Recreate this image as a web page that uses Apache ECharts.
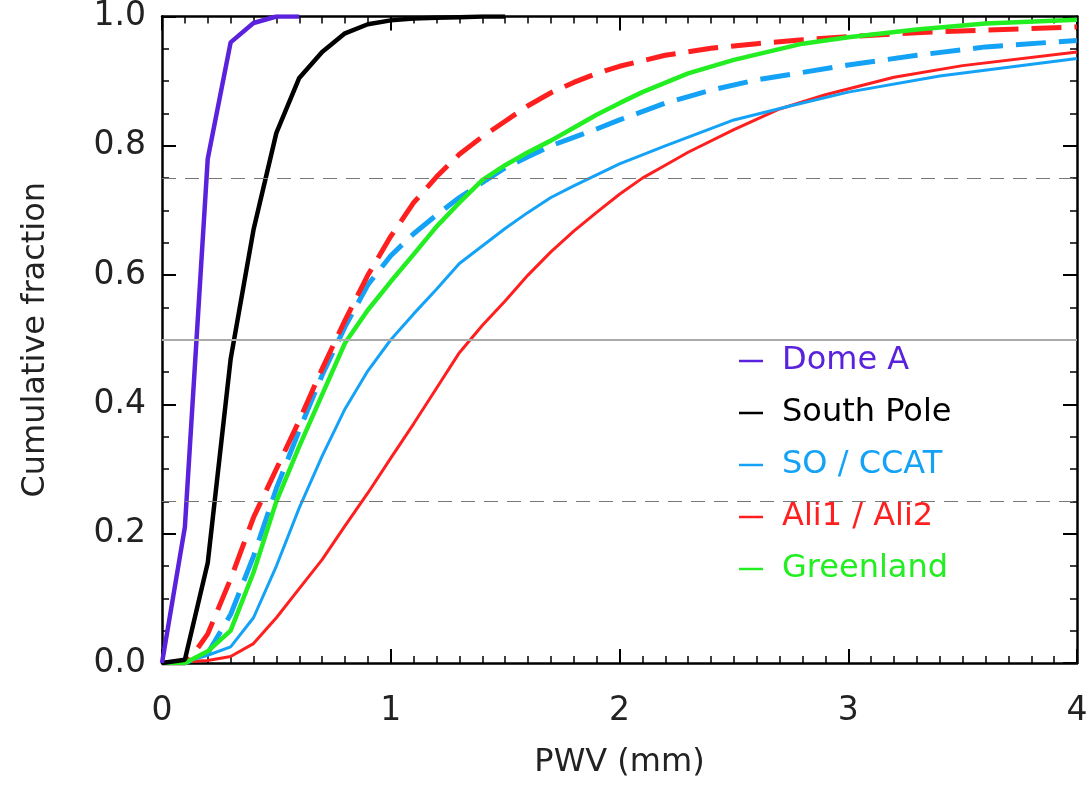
<!DOCTYPE html>
<html>
<head>
<meta charset="utf-8">
<script src="https://cdn.jsdelivr.net/npm/echarts@6/dist/echarts.min.js"></script>
<style>
  html, body { margin: 0; padding: 0; background: #fff; }
  #chart { width: 1092px; height: 785px; }
</style>
</head>
<body>
<div id="chart"></div>
<script>
// PWV values (mm) and cumulative fractions
var domeA_x = [0, 0.1, 0.2, 0.3, 0.4, 0.5, 0.6];
var domeA_y = [0, 0.21, 0.78, 0.96, 0.99, 1.0, 1.0];

var pole_x = [0, 0.1, 0.2, 0.3, 0.4, 0.5, 0.6, 0.7, 0.8, 0.9, 1.0, 1.1, 1.2, 1.3, 1.4, 1.5];
var pole_y = [0, 0.005, 0.155, 0.47, 0.67, 0.82, 0.905, 0.945, 0.974, 0.988, 0.994, 0.997, 0.998, 0.999, 1.0, 1.0];

var so_x = [0, 0.1, 0.2, 0.3, 0.4, 0.5, 0.6, 0.7, 0.8, 0.9, 1.0, 1.1, 1.2, 1.3, 1.4, 1.5, 1.6, 1.7, 1.8, 1.9, 2.0, 2.2, 2.5, 2.75, 3.0, 3.4, 4.0];
var so_y = [0, 0.002, 0.012, 0.025, 0.07, 0.15, 0.24, 0.32, 0.393, 0.452, 0.5, 0.54, 0.578, 0.618, 0.645, 0.672, 0.697, 0.72, 0.738, 0.755, 0.772, 0.8, 0.84, 0.862, 0.883, 0.908, 0.935];

var ccat_x = [0, 0.1, 0.2, 0.3, 0.4, 0.5, 0.6, 0.7, 0.8, 0.9, 1.0, 1.1, 1.2, 1.3, 1.4, 1.5, 1.6, 1.7, 1.8, 1.9, 2.0, 2.2, 2.4, 2.6, 3.0, 3.3, 3.6, 4.0];
var ccat_y = [0, 0, 0.015, 0.075, 0.165, 0.27, 0.36, 0.445, 0.52, 0.585, 0.63, 0.664, 0.693, 0.72, 0.743, 0.766, 0.783, 0.8, 0.813, 0.826, 0.84, 0.866, 0.886, 0.902, 0.925, 0.94, 0.953, 0.963];

var ali1_x = [0, 0.1, 0.2, 0.3, 0.4, 0.5, 0.6, 0.7, 0.8, 0.9, 1.0, 1.1, 1.2, 1.3, 1.4, 1.5, 1.6, 1.7, 1.8, 1.9, 2.0, 2.1, 2.2, 2.3, 2.5, 2.7, 2.9, 3.2, 3.5, 4.0];
var ali1_y = [0, 0.002, 0.004, 0.01, 0.03, 0.07, 0.115, 0.16, 0.212, 0.263, 0.317, 0.37, 0.425, 0.48, 0.522, 0.56, 0.6, 0.636, 0.668, 0.697, 0.725, 0.75, 0.77, 0.79, 0.825, 0.857, 0.879, 0.906, 0.924, 0.945];

var ali2_x = [0, 0.1, 0.15, 0.2, 0.3, 0.4, 0.5, 0.6, 0.7, 0.8, 0.9, 1.0, 1.1, 1.2, 1.3, 1.4, 1.5, 1.6, 1.7, 1.8, 1.9, 2.0, 2.2, 2.4, 2.6, 2.8, 3.0, 3.3, 3.6, 4.0];
var ali2_y = [0, 0, 0.02, 0.045, 0.13, 0.225, 0.3, 0.375, 0.455, 0.53, 0.6, 0.66, 0.712, 0.752, 0.787, 0.814, 0.838, 0.862, 0.882, 0.898, 0.912, 0.923, 0.94, 0.951, 0.958, 0.964, 0.969, 0.975, 0.979, 0.984];

var green_x = [0, 0.1, 0.2, 0.3, 0.4, 0.5, 0.6, 0.7, 0.8, 0.9, 1.0, 1.1, 1.2, 1.3, 1.4, 1.5, 1.6, 1.7, 1.8, 1.9, 2.0, 2.1, 2.3, 2.5, 2.8, 3.0, 3.3, 3.6, 4.0];
var green_y = [0, 0, 0.018, 0.05, 0.14, 0.25, 0.335, 0.415, 0.495, 0.546, 0.59, 0.632, 0.675, 0.712, 0.747, 0.77, 0.79, 0.808, 0.828, 0.848, 0.866, 0.883, 0.912, 0.933, 0.958, 0.968, 0.98, 0.989, 0.995];

var refLevels = [0.25, 0.5, 0.75];
var legendNames = ['Dome A', 'South Pole', 'SO / CCAT', 'Ali1 / Ali2', 'Greenland'];

var PURPLE = '#5a22dc', BLUE = '#14a2f6', RED = '#ff1f1f', GREEN = '#22ee22';
var FONT = 'DejaVu Sans';

function zip(xs, ys) {
  return xs.map(function (x, i) { return [x, ys[i]]; });
}

function curve(name, xs, ys, color, width, dashed) {
  return {
    name: name,
    type: 'line',
    data: zip(xs, ys),
    showSymbol: false,
    symbol: 'none',
    z: 3,
    lineStyle: { color: color, width: width, type: dashed ? [30, 13] : 'solid' },
    itemStyle: { color: color }
  };
}

var chart = echarts.init(document.getElementById('chart'));

var axisCommon = {
  type: 'value',
  axisLine: { show: true, onZero: false, lineStyle: { color: '#000', width: 2.5 } },
  axisTick: { show: true, inside: true, length: 14, lineStyle: { color: '#000', width: 2 } },
  minorTick: { show: true, length: 7, lineStyle: { color: '#000', width: 1.5 } },
  splitLine: { show: false }
};

var option = {
  animation: false,
  backgroundColor: '#fff',
  grid: { left: 162, top: 12, right: 15, bottom: 122 },
  xAxis: [
    Object.assign({}, axisCommon, {
      position: 'bottom', min: 0, max: 4, interval: 1,
      minorTick: Object.assign({}, axisCommon.minorTick, { splitNumber: 10 }),
      axisLabel: { color: '#222', fontFamily: FONT, fontSize: 33, margin: 32 },
      name: 'PWV (mm)', nameLocation: 'middle', nameGap: 84,
      nameTextStyle: { color: '#222', fontFamily: FONT, fontSize: 32 }
    }),
    Object.assign({}, axisCommon, {
      position: 'top', min: 0, max: 4, interval: 1,
      minorTick: Object.assign({}, axisCommon.minorTick, { splitNumber: 10 }),
      axisLabel: { show: false }
    })
  ],
  yAxis: [
    Object.assign({}, axisCommon, {
      position: 'left', min: 0, max: 1, interval: 0.2,
      minorTick: Object.assign({}, axisCommon.minorTick, { splitNumber: 4 }),
      axisLabel: {
        color: '#222', fontFamily: FONT, fontSize: 33, margin: 16,
        formatter: function (v) { return v.toFixed(1); }
      },
      name: 'Cumulative fraction', nameLocation: 'middle', nameGap: 110,
      nameTextStyle: { color: '#222', fontFamily: FONT, fontSize: 32 }
    }),
    Object.assign({}, axisCommon, {
      position: 'right', min: 0, max: 1, interval: 0.2,
      minorTick: Object.assign({}, axisCommon.minorTick, { splitNumber: 4 }),
      axisLabel: { show: false }
    })
  ],
  legend: {
    orient: 'vertical',
    left: 734,
    top: 340,
    itemWidth: 24,
    itemHeight: 2.5,
    itemGap: 20,
    icon: 'rect',
    selectedMode: false,
    textStyle: { fontFamily: FONT, fontSize: 32, padding: [0, 0, 0, 14] },
    data: [
      { name: legendNames[0], textStyle: { color: PURPLE } },
      { name: legendNames[1], textStyle: { color: '#000' } },
      { name: legendNames[2], textStyle: { color: BLUE } },
      { name: legendNames[3], textStyle: { color: RED } },
      { name: legendNames[4], textStyle: { color: GREEN } }
    ]
  },
  series: [
    {
      name: 'ref',
      type: 'line',
      data: [],
      z: 1,
      markLine: {
        silent: true,
        symbol: 'none',
        label: { show: false },
        data: [
          { yAxis: refLevels[0], lineStyle: { color: '#777', width: 1.2, type: [14, 9] } },
          { yAxis: refLevels[1], lineStyle: { color: '#aaa', width: 2, type: 'solid' } },
          { yAxis: refLevels[2], lineStyle: { color: '#777', width: 1.2, type: [14, 9] } }
        ]
      }
    },
    curve('Ali1 / Ali2', ali1_x, ali1_y, RED, 3, false),
    curve('SO / CCAT', so_x, so_y, BLUE, 3, false),
    curve('SO / CCAT', ccat_x, ccat_y, BLUE, 5, true),
    curve('Ali1 / Ali2', ali2_x, ali2_y, RED, 5, true),
    curve('Greenland', green_x, green_y, GREEN, 4.5, false),
    curve('South Pole', pole_x, pole_y, '#000', 4.5, false),
    curve('Dome A', domeA_x, domeA_y, PURPLE, 4.5, false)
  ]
};

chart.setOption(option);
</script>
</body>
</html>
